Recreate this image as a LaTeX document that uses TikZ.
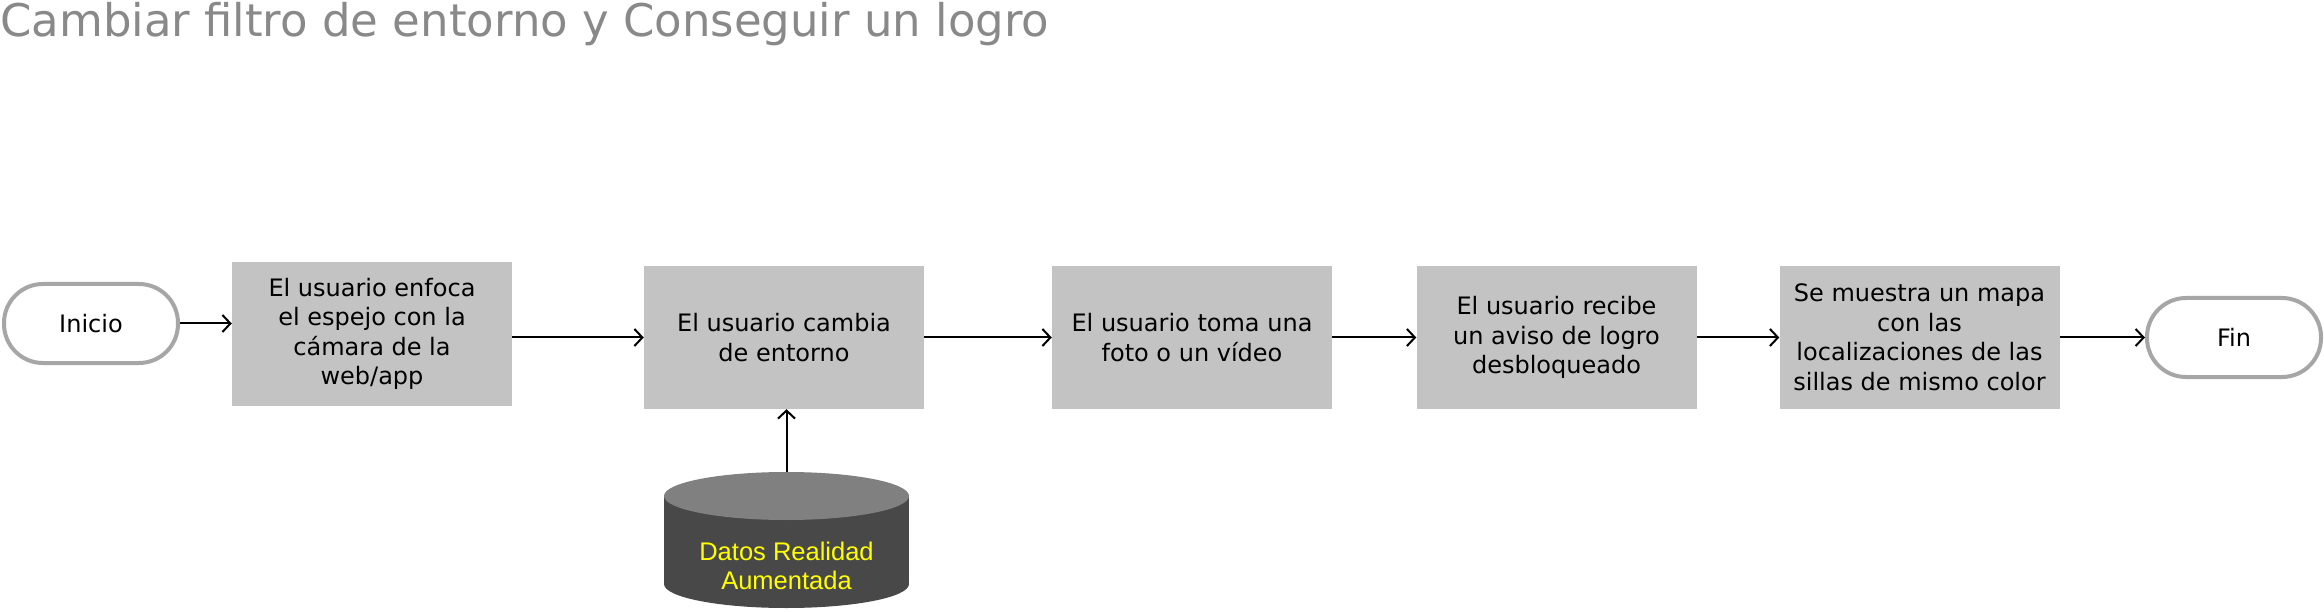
\documentclass[tikz,border=0pt]{standalone}
\usepackage{fontspec}
\setmainfont{DejaVu Sans}
\newfontfamily\arialfont{Liberation Sans}
\usetikzlibrary{arrows.meta}
\definecolor{boxgray}{RGB}{195,195,195}
\definecolor{titlegray}{RGB}{137,137,137}
\definecolor{termborder}{RGB}{166,166,166}
\definecolor{dbtopc}{RGB}{128,128,128}
\definecolor{dbbodyc}{RGB}{72,72,72}
\definecolor{dbtextc}{RGB}{255,255,0}
\begin{document}
\begin{tikzpicture}[x=1pt,y=-1pt,
  stepbox/.style={fill=boxgray, minimum width=280pt, minimum height=143pt, inner sep=0pt, align=center, font=\fontsize{24}{29.5}\selectfont},
  term/.style={draw=termborder, line width=4pt, fill=white, rounded corners=39pt, minimum width=174pt, minimum height=79pt, inner sep=0pt, font=\fontsize{24}{29.5}\selectfont},
  flow/.style={line width=2pt, -{Straight Barb[length=8pt,width=17pt,line width=2pt]}},
]
\fill[white] (0,0) rectangle (2324,612);
\useasboundingbox (0,0) rectangle (2324,612);

\node[anchor=base west, inner sep=0pt, text=titlegray, font=\fontsize{45}{54}\selectfont] (title) at (0,37) {Cambiar filtro de entorno y Conseguir un logro};

\node[term] (inicio) at (91,323.5) {Inicio};
\node[stepbox, minimum height=144pt] (box1) at (372,334) {El usuario enfoca\\el espejo con la\\cámara de la\\web/app};
\node[stepbox] (box2) at (784,337.5) {El usuario cambia\\de entorno};
\node[stepbox] (box3) at (1192,337.5) {El usuario toma una\\foto o un vídeo};
\node[stepbox] (box4) at (1556.5,337.5) {El usuario recibe\\un aviso de logro\\desbloqueado};
\node[stepbox] (box5) at (1919.5,337.5) {Se muestra un mapa\\con las\\localizaciones de las\\sillas de mismo color};
\node[term] (fin) at (2234,337.5) {Fin};

% database cylinder
\fill[dbbodyc] (664,496) rectangle (909,584);
\fill[dbbodyc] (786.5,584) ellipse [x radius=122.5, y radius=24];
\fill[dbtopc] (786.5,496) ellipse [x radius=122.5, y radius=24];
\node[minimum width=245pt, minimum height=136pt, inner sep=0pt] (db) at (786.5,540) {};
\node[text=dbtextc, align=center, inner sep=0pt, font=\arialfont\fontsize{25.5}{29}\selectfont] (dblabel) at (786.5,566) {Datos Realidad\\Aumentada};

\draw[flow] (inicio.east) -- (inicio.east -| box1.west);
\draw[flow] (box2.west -| box1.east) -- (box2.west);
\draw[flow] (box2.east) -- (box3.west);
\draw[flow] (box3.east) -- (box4.west);
\draw[flow] (box4.east) -- (box5.west);
\draw[flow] (box5.east) -- (fin.west);
\draw[flow] (db.north) -- (db.north |- box2.south);
\end{tikzpicture}
\end{document}
